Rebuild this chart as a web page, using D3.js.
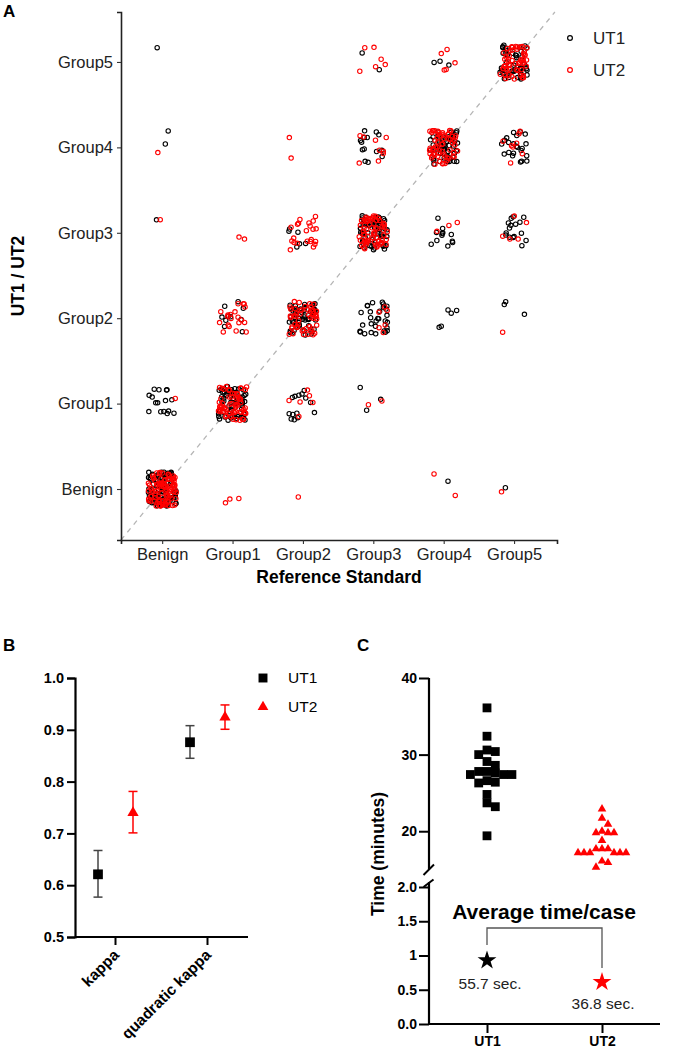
<!DOCTYPE html>
<html><head><meta charset="utf-8">
<script src="https://cdn.jsdelivr.net/npm/d3@7"></script>
<style>body{margin:0;background:#fff}svg{display:block;font-family:"Liberation Sans",Arial,sans-serif}</style>
</head><body><svg id="c" width="685" height="1051"></svg>
<script>
// ---------- Panel A data ----------
const categories = ["Benign","Group1","Group2","Group3","Group4","Group5"];
// rows = reader result (Benign..Group5), columns = reference standard (Benign..Group5)
const ut1Counts = [
  [85, 0, 0, 0, 1, 1],
  [16, 60, 14, 3, 0, 0],
  [0, 10, 55, 30, 5, 3],
  [1, 0, 6, 65, 12, 16],
  [2, 0, 0, 14, 55, 22],
  [1, 0, 0, 2, 3, 50]
];
const ut2Counts = [
  [95, 3, 1, 0, 2, 1],
  [1, 65, 6, 2, 0, 0],
  [0, 20, 50, 6, 0, 1],
  [1, 2, 22, 65, 3, 5],
  [1, 0, 2, 9, 60, 8],
  [0, 0, 0, 6, 5, 55]
];
const seriesNames = ["UT1","UT2"];
const seriesColors = ["#000000","#ff0000"];

// ---------- Panel B data ----------
const kappaMetrics = ["kappa","quadratic kappa"];
const kappaUT1 = [0.621, 0.876];
const kappaUT1Lo = [0.577, 0.845];
const kappaUT1Hi = [0.667, 0.908];
const kappaUT2 = [0.740, 0.924];
const kappaUT2Lo = [0.701, 0.901];
const kappaUT2Hi = [0.781, 0.948];
const kappaTicks = [0.5, 0.6, 0.7, 0.8, 0.9, 1.0];

// ---------- Panel C data ----------
const timeUT1 = [36.1, 32.4, 30.4, 30.6, 30.0, 29.1, 28.6, 27.4, 27.8, 27.6, 27.8, 27.4, 27.4, 26.4, 26.3, 26.6, 24.8, 23.7, 23.2, 19.4];
const timeUT2 = [22.9, 21.7, 20.9, 19.8, 19.8, 19.8, 20.0, 18.8, 17.7, 17.7, 17.2, 17.2, 17.2, 17.2, 17.2, 17.2, 17.7, 16.1, 15.9, 15.3];
const avgPerCaseMin = [55.7/60, 36.8/60];
const avgLabels = ["55.7 sec.", "36.8 sec."];
const upperTicks = [20, 30, 40];
const lowerTicks = [0, 0.5, 1, 1.5, 2];
const lowerTickLabels = ["0.0","0.5","1","1.5","2.0"];

const svg = d3.select("#c");
const F = '"Liberation Sans",Arial,sans-serif';

// panel letters
[["A",3,17],["B",3,651],["C",357,651]].forEach(([t,x,y])=>{
  svg.append("text").attr("x",x).attr("y",y).text(t).attr("font-size",17).attr("font-weight","bold");
});

// ================= Panel A =================
(function(){
  const x = d3.scaleLinear().domain([0.415, 6.61]).range([121, 557]);
  const y = d3.scaleLinear().domain([0.403, 6.585]).range([540, 12]);
  const g = svg.append("g");
  // diagonal
  g.append("line").attr("x1",x(0.415)).attr("y1",y(0.403)).attr("x2",x(6.58)).attr("y2",y(6.585))
    .attr("stroke","#b5b5b5").attr("stroke-width",1.3).attr("stroke-dasharray","5,5");
  const rng = d3.randomLcg(0.1234);
  const jit = d3.randomUniform.source(rng)(-0.2, 0.2);
  const pts = [];
  [ut1Counts, ut2Counts].forEach((m, s) => {
    m.forEach((row, r) => row.forEach((n, c) => {
      for (let i = 0; i < n; i++) pts.push({s, rx: c + 1 + jit(), ry: r + 1 + jit()});
    }));
  });
  g.selectAll("circle.p").data(pts).join("circle").attr("class","p")
    .attr("cx", d => x(d.rx)).attr("cy", d => y(d.ry)).attr("r", 2.2)
    .attr("fill","none").attr("stroke", d => seriesColors[d.s]).attr("stroke-width",1.1);
  const xa = g.append("g").attr("transform","translate(0,540)")
    .call(d3.axisBottom(x).tickValues([1,2,3,4,5,6]).tickFormat(d=>categories[d-1]).tickSize(4).tickPadding(4));
  const ya = g.append("g").attr("transform","translate(121,0)")
    .call(d3.axisLeft(y).tickValues([1,2,3,4,5,6]).tickFormat(d=>categories[d-1]).tickSize(4).tickPadding(4));
  [xa, ya].forEach(a => {
    a.select(".domain").attr("stroke","#222").attr("stroke-width",1.6);
    a.selectAll(".tick line").attr("stroke","#333").attr("stroke-width",1.1);
    a.selectAll(".tick text").attr("font-size",16.5).attr("fill","#222").attr("font-family",F);
  });
  xa.selectAll(".tick text").attr("dy","0.72em");
  g.append("text").attr("x",339).attr("y",583).attr("text-anchor","middle")
    .attr("font-size",17.5).attr("font-weight","bold").text("Reference Standard");
  g.append("text").attr("transform","translate(24,276) rotate(-90)").attr("text-anchor","middle")
    .attr("font-size",17.5).attr("font-weight","bold").text("UT1 / UT2");
  seriesNames.forEach((nm, i) => {
    g.append("circle").attr("cx",570).attr("cy",38+i*32).attr("r",2.4).attr("fill","none")
      .attr("stroke",seriesColors[i]).attr("stroke-width",1.2);
    g.append("text").attr("x",593).attr("y",38+i*32).attr("dy","0.35em").attr("font-size",17).attr("fill","#222").text(nm);
  });
})();

// ================= Panel B =================
(function(){
  const y = d3.scaleLinear().domain([0.5, 1.0]).range([937, 678]);
  const x = d3.scalePoint().domain(kappaMetrics).range([115, 207]);
  const g = svg.append("g");
  const ya = g.append("g").attr("transform","translate(75,0)")
    .call(d3.axisLeft(y).tickValues(kappaTicks).tickFormat(d3.format(".1f")).tickSize(8).tickPadding(3));
  const xa = g.append("g").attr("transform","translate(0,937)")
    .call(d3.axisBottom(x).tickSize(8).tickFormat(""));
  xa.select(".domain").attr("d","M75,0H248");
  [xa, ya].forEach(a => {
    a.select(".domain").attr("stroke","#000").attr("stroke-width",2.2);
    a.selectAll(".tick line").attr("stroke","#000").attr("stroke-width",2);
    a.selectAll(".tick text").attr("font-size",14.5).attr("font-weight","bold").attr("fill","#000").attr("font-family",F);
  });
  kappaMetrics.forEach(m => {
    g.append("text").attr("transform",`translate(${x(m)+5},956) rotate(-45)`).attr("text-anchor","end")
      .attr("font-size",15.5).attr("font-weight","bold").text(m);
  });
  const sets = [
    {v:kappaUT1, lo:kappaUT1Lo, hi:kappaUT1Hi, off:-17, col:"#000", bar:"#444", sym:d3.symbolSquare, size:95},
    {v:kappaUT2, lo:kappaUT2Lo, hi:kappaUT2Hi, off:18, col:"#ff0000", bar:"#ff0000", sym:d3.symbolTriangle, size:55}
  ];
  sets.forEach(s => {
    kappaMetrics.forEach((m, i) => {
      const cx = x(m) + s.off;
      g.append("line").attr("x1",cx).attr("x2",cx).attr("y1",y(s.lo[i])).attr("y2",y(s.hi[i])).attr("stroke",s.bar).attr("stroke-width",1.5);
      [s.lo[i], s.hi[i]].forEach(v => g.append("line").attr("x1",cx-4.5).attr("x2",cx+4.5).attr("y1",y(v)).attr("y2",y(v)).attr("stroke",s.bar).attr("stroke-width",1.5));
      g.append("path").attr("d", d3.symbol().type(s.sym).size(s.size)()).attr("transform",`translate(${cx},${y(s.v[i])})`).attr("fill",s.col);
    });
  });
  // legend
  [[d3.symbolSquare,80,"#000"],[d3.symbolTriangle,50,"#ff0000"]].forEach((d,i)=>{
    g.append("path").attr("d", d3.symbol().type(d[0]).size(d[1])()).attr("transform",`translate(263,${678+i*29})`).attr("fill",d[2]);
    g.append("text").attr("x",288).attr("y",678+i*29).attr("dy","0.35em").attr("font-size",15.5).text(seriesNames[i]);
  });
})();

// ================= Panel C =================
(function(){
  const AX = 429;
  const x = d3.scalePoint().domain(seriesNames).range([487, 602]);
  const yU = d3.scaleLinear().domain([15.2, 40]).range([868, 678]);
  const yL = d3.scaleLinear().domain([0, 2]).range([1024, 887]);
  const g = svg.append("g");
  const ua = g.append("g").attr("transform",`translate(${AX},0)`)
    .call(d3.axisLeft(yU).tickValues(upperTicks).tickSize(10).tickPadding(2));
  ua.select(".domain").attr("d","M0,678V869");
  const la = g.append("g").attr("transform",`translate(${AX},0)`)
    .call(d3.axisLeft(yL).tickValues(lowerTicks).tickFormat((d,i)=>lowerTickLabels[i]).tickSize(10).tickPadding(2));
  la.select(".domain").attr("d","M0,882V1024");
  const xa = g.append("g").attr("transform","translate(0,1024)")
    .call(d3.axisBottom(x).tickSize(9).tickPadding(3));
  xa.select(".domain").attr("d",`M${AX},0H660`);
  [ua, la, xa].forEach(a => {
    a.select(".domain").attr("stroke","#000").attr("stroke-width",2.2);
    a.selectAll(".tick line").attr("stroke","#000").attr("stroke-width",2);
    a.selectAll(".tick text").attr("font-size",14).attr("font-weight","bold").attr("fill","#000").attr("font-family",F);
  });
  xa.selectAll(".tick text").attr("dy","0.71em");
  // break marks
  g.append("line").attr("x1",423.5).attr("y1",875).attr("x2",434).attr("y2",864.5).attr("stroke","#000").attr("stroke-width",2);
  g.append("line").attr("x1",423.5).attr("y1",887).attr("x2",433.5).attr("y2",879.5).attr("stroke","#000").attr("stroke-width",2);
  g.append("text").attr("transform","translate(384,854) rotate(-90)").attr("text-anchor","middle")
    .attr("font-size",17.5).attr("font-weight","bold").text("Time (minutes)");

  // swarm layout
  function swarm(vals, cx, step, ythr) {
    const placed = [];
    const order = vals.map((v,i)=>({v,i})).sort((a,b)=>b.v-a.v);
    order.forEach(o => {
      const py = yU(o.v);
      let px;
      const cands = [0];
      for (let j = 1; j < 10; j++) { cands.push(j*step, -j*step); }
      for (const c of cands) {
        const ok = placed.every(p => Math.abs(p.py-py) >= ythr || Math.abs(p.px-(cx+c)) >= step*0.98);
        if (ok) { px = cx + c; break; }
      }
      placed.push({px, py});
    });
    return placed;
  }
  const s1 = swarm(timeUT1, x("UT1"), 8.3, 7);
  g.selectAll("path.s1").data(s1).join("path").attr("class","s1")
    .attr("d", d3.symbol().type(d3.symbolSquare).size(78)()).attr("transform", d=>`translate(${d.px},${d.py})`).attr("fill","#000");
  const s2 = swarm(timeUT2, x("UT2"), 6, 6.5);
  g.selectAll("path.s2").data(s2).join("path").attr("class","s2")
    .attr("d", d3.symbol().type(d3.symbolTriangle).size(32)()).attr("transform", d=>`translate(${d.px},${d.py})`).attr("fill","#ff0000");

  // average per-case annotation
  g.append("text").attr("x",544).attr("y",919).attr("text-anchor","middle").attr("font-size",21).attr("font-weight","bold").text("Average time/case");
  g.append("path").attr("d",`M${x("UT1")},945V928H${x("UT2")}V968`).attr("fill","none").attr("stroke","#555").attr("stroke-width",1.3);
  const starCols = ["#000","#ff0000"];
  seriesNames.forEach((nm,i)=>{
    g.append("path").attr("d", d3.symbol().type(d3.symbolStar).size(110)()).attr("transform",`translate(${x(nm)},${yL(avgPerCaseMin[i])})`).attr("fill",starCols[i]);
  });
  g.append("text").attr("x",490).attr("y",989).attr("text-anchor","middle").attr("font-size",15.5).attr("fill","#222").text(avgLabels[0]);
  g.append("text").attr("x",603).attr("y",1009).attr("text-anchor","middle").attr("font-size",15.5).attr("fill","#222").text(avgLabels[1]);
})();
</script></body></html>
